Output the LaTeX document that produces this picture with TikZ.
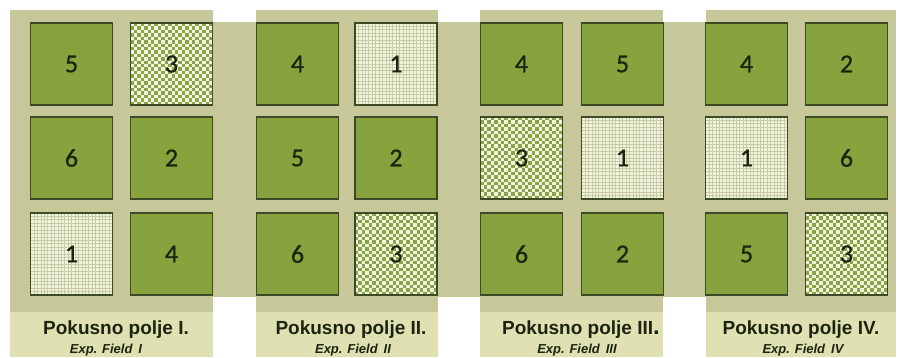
\documentclass[tikz,border=0pt]{standalone}
\usepackage{fontspec}
\setmainfont{Liberation Sans}
\newfontfamily\digitfont[FakeBold=0.8]{Carlito}
\definecolor{khaki}{HTML}{C7C89A}
\definecolor{labelbg}{HTML}{DFE1B3}
\definecolor{plotgreen}{HTML}{86A33E}
\definecolor{plotedge}{HTML}{3E4A25}
\definecolor{ink}{HTML}{1C2410}
\definecolor{chkgreen}{HTML}{88A646}
\definecolor{cream}{HTML}{F3F4DF}
\definecolor{gridline}{HTML}{C8CCA4}
\newcommand\chkpat[2]{%
  \begin{scope}[shift={(#1-41,#2-41)}]
    \fill[chkgreen] (0,0) rectangle (82,82);
    \clip (0,0) rectangle (82,82);
    \foreach \j in {0,...,23}{\foreach \i in {0,...,12}{
      \pgfmathsetmacro\xx{(2*\i+mod(\j,2))*3.417}
      \fill[cream] (\xx,\j*3.417) rectangle ++(3.417,3.417);
    }}
  \end{scope}}
\newcommand\grdpat[2]{%
  \begin{scope}[shift={(#1-41,#2-41)}]
    \fill[cream] (0,0) rectangle (82,82);
    \clip (0,0) rectangle (82,82);
    \foreach \k in {0,...,24}{
      \draw[gridline, line width=0.5pt] (\k*3.417,0) -- ++(0,82);
      \draw[gridline, line width=0.7pt] (0,\k*3.417) -- ++(82,0);
    }
  \end{scope}}
\begin{document}
\begin{tikzpicture}[x=1pt,y=-1pt,
  plot/.style={draw=plotedge, line width=1.1pt, minimum width=82pt, minimum height=82pt,
    inner sep=0pt, text=ink, font=\digitfont\fontsize{26}{26}\selectfont},
  plain/.style={plot, fill=plotgreen},
  chk/.style={plot},
  grd/.style={plot},
  title/.style={anchor=base, text=ink, font=\bfseries\fontsize{19}{19}\selectfont, inner sep=0pt},
  sub/.style={anchor=base, text=ink, font=\bfseries\itshape\fontsize{13}{13}\selectfont, inner sep=0pt}
]
\useasboundingbox (0,0) rectangle (903,357);
\fill[white] (0,0) rectangle (903,357);
% field columns
\foreach \a/\b in {10/213, 256/438, 480/663, 706/896}{
  \fill[khaki] (\a,10) rectangle (\b,312);
  \fill[labelbg] (\a,312) rectangle (\b,357);
}
% central band
\fill[khaki] (10,22) rectangle (896,297);

% patterned plots (fill drawn first, node outline and number on top)
\chkpat{171.5}{64}
\grdpat{71.5}{254}
\grdpat{396}{64}
\chkpat{396}{254}
\chkpat{521.5}{158}
\grdpat{622.5}{158}
\grdpat{746.5}{158}
\chkpat{846.5}{254}

% Field I
\node[plain] (f1a) at (71.5,64) {5};
\node[chk]   (f1b) at (171.5,64) {3};
\node[plain] (f1c) at (71.5,158) {6};
\node[plain] (f1d) at (171.5,158) {2};
\node[grd]   (f1e) at (71.5,254) {1};
\node[plain] (f1f) at (171.5,254) {4};
% Field II
\node[plain] (f2a) at (297.5,64) {4};
\node[grd]   (f2b) at (396,64) {1};
\node[plain] (f2c) at (297.5,158) {5};
\node[plain] (f2d) at (396,158) {2};
\node[plain] (f2e) at (297.5,254) {6};
\node[chk]   (f2f) at (396,254) {3};
% Field III
\node[plain] (f3a) at (521.5,64) {4};
\node[plain] (f3b) at (622.5,64) {5};
\node[chk]   (f3c) at (521.5,158) {3};
\node[grd]   (f3d) at (622.5,158) {1};
\node[plain] (f3e) at (521.5,254) {6};
\node[plain] (f3f) at (622.5,254) {2};
% Field IV
\node[plain] (f4a) at (746.5,64) {4};
\node[plain] (f4b) at (846.5,64) {2};
\node[grd]   (f4c) at (746.5,158) {1};
\node[plain] (f4d) at (846.5,158) {6};
\node[plain] (f4e) at (746.5,254) {5};
\node[chk]   (f4f) at (846.5,254) {3};

% labels
\node[title] (t1) at (116,334) {Pokusno polje I.};
\node[sub]   (s1) at (106,353) {Exp. Field\hspace{6pt}I};
\node[title] (t2) at (351,334) {Pokusno polje II.};
\node[sub]   (s2) at (353,353) {Exp. Field\hspace{6pt}II};
\node[title] (t3) at (581,334) {Pokusno polje III{\fontsize{24}{24}\selectfont.}};
\node[sub]   (s3) at (577,353) {Exp. Field\hspace{6pt}III};
\node[title] (t4) at (801,334) {Pokusno polje IV.};
\node[sub]   (s4) at (803,353) {Exp. Field\hspace{6pt}IV};
\end{tikzpicture}
\end{document}
